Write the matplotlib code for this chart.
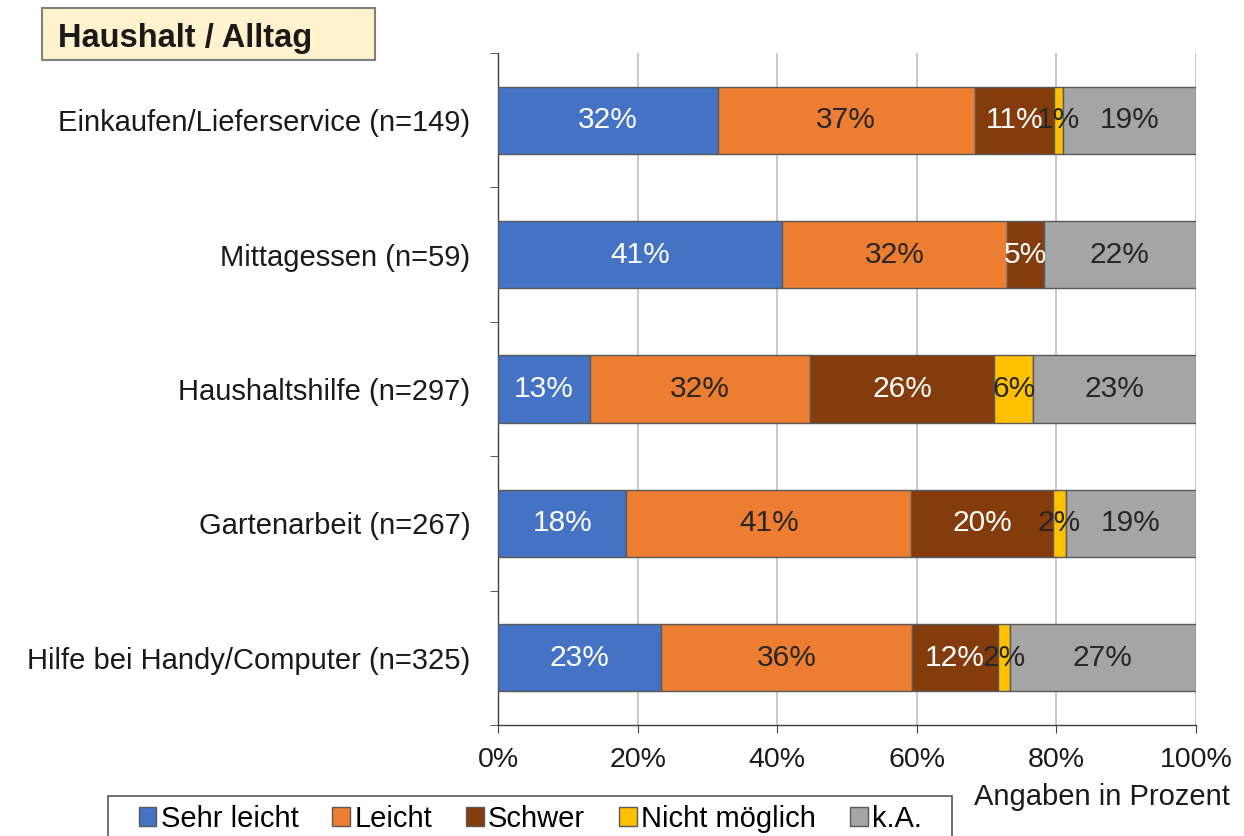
import numpy as np
import matplotlib.pyplot as plt
from matplotlib.patches import Rectangle
from matplotlib.ticker import FixedLocator, FuncFormatter

plt.rcParams['font.family'] = ['Liberation Sans', 'DejaVu Sans']

# categories (top to bottom)
categories = ["Einkaufen/Lieferservice (n=149)", "Mittagessen (n=59)",
              "Haushaltshilfe (n=297)", "Gartenarbeit (n=267)",
              "Hilfe bei Handy/Computer (n=325)"]
series_names = ["Sehr leicht", "Leicht", "Schwer", "Nicht möglich", "k.A."]

sehr_leicht = [31.5, 40.7, 13.2, 18.4, 23.4]
leicht = [36.8, 32.2, 31.5, 40.8, 35.9]
schwer = [11.4, 5.3, 26.4, 20.3, 12.3]
nicht_moeglich = [1.3, 0.0, 5.6, 1.9, 1.7]
k_a = [19.0, 21.8, 23.3, 18.6, 26.7]

colors = ["#4472C4", "#ED7D31", "#843C0C", "#FFC000", "#A5A5A5"]
text_colors = ["white", "#262626", "white", "#262626", "#262626"]

series = [sehr_leicht, leicht, schwer, nicht_moeglich, k_a]

fig = plt.figure(figsize=(12.44, 8.36), dpi=100)
ax = fig.add_axes([0.4003, 0.1328, 0.5611, 0.8038])

y = np.arange(len(categories))
left = np.zeros(len(categories))
for vals, name, c, tc in zip(series, series_names, colors, text_colors):
    vals = np.array(vals)
    ax.barh(y, vals, left=left, height=0.5, color=c, edgecolor="#595959",
            linewidth=1.0, label=name, zorder=3)
    for yi, (l, v) in enumerate(zip(left, vals)):
        if v > 0:
            ax.text(l + v / 2, yi, f"{v:.0f}%", ha="center", va="center",
                    color=tc, fontsize=21.5, zorder=4)
    left = left + vals

ax.set_xlim(0, 100)
ax.set_ylim(len(categories) - 0.5, -0.5)
ax.set_yticks(y)
ax.set_yticklabels(categories, fontsize=21, color="#1a1a1a")
ax.tick_params(axis="y", which="major", length=0, pad=20)
ax.yaxis.set_minor_locator(FixedLocator(np.arange(-0.5, len(categories), 1.0)))
ax.tick_params(axis="y", which="minor", length=6, color="#404040", direction="out")

ax.set_xticks(np.arange(0, 101, 20))
ax.xaxis.set_major_formatter(FuncFormatter(lambda v, p: f"{v:.0f}%"))
ax.tick_params(axis="x", length=6, color="#404040", labelsize=20.5, pad=10,
               labelcolor="#1a1a1a")
ax.grid(axis="x", color="#BFBFBF", linewidth=1.2, zorder=0)

for s in ["top", "right"]:
    ax.spines[s].set_visible(False)
for s in ["left", "bottom"]:
    ax.spines[s].set_color("#404040")
    ax.spines[s].set_linewidth(1.0)

# title box
fig.add_artist(Rectangle((0.0338, 0.9282), 0.2677, 0.0622, transform=fig.transFigure,
                         facecolor="#FFF2CC", edgecolor="#808080", linewidth=1.5))
fig.text(0.0466, 0.954, "Haushalt / Alltag", fontsize=23.5, fontweight="bold",
         ha="left", va="center", color="#1a1a1a")

fig.text(0.989, 0.047, "Angaben in Prozent", fontsize=21, ha="right",
         va="center", color="#1a1a1a")

# legend frame (runs off the bottom edge like the original)
fig.add_artist(Rectangle((0.0868, -0.02), 0.6785, 0.068, transform=fig.transFigure,
                         facecolor="white", edgecolor="#595959", linewidth=1.2))
handles, labels = ax.get_legend_handles_labels()
leg = fig.legend(handles, labels, loc="upper left",
                 bbox_to_anchor=(0.1115, 0.0371), ncol=5, fontsize=21,
                 frameon=False, handlelength=0.6, handleheight=0.6,
                 handletextpad=0.15, columnspacing=1.17, borderpad=0,
                 borderaxespad=0)

fig.savefig("out.png", dpi=100)
